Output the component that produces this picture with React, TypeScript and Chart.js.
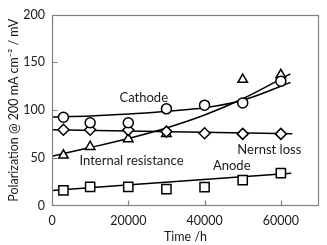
import React, { useEffect, useRef } from 'react';
import { Chart, registerables } from 'chart.js';

Chart.register(...registerables);

// Measured points (time in hours, polarization in mV)
const timeHours = [3000, 10000, 20000, 30000, 40000, 50000, 60000];
const cathodeValues = [92.7, 87, 87, 101.5, 105.3, 107.7, 130.3];
const internalResistanceValues = [53, 62, 70, 75.5, null, 132, 137];
const nernstValues = [79.7, 79.7, 79.3, 77.7, 76, 75.3, 75.3];
const anodeValues = [16.3, 20, 20, 17.7, 19.7, 27, 34.3];

// Fitted trend lines
const cathodeFitX = [0, 10000, 20000, 30000, 40000, 50000, 62500];
const cathodeFitY = [93, 94, 96, 99, 102.7, 110.5, 129];
const resistanceFitX = [0, 10000, 20000, 30000, 40000, 50000, 62500];
const resistanceFitY = [52, 61, 70.5, 81.5, 95, 112, 138];
const nernstFitX = [0, 63000];
const nernstFitY = [79.7, 75.5];
const anodeFitX = [0, 62700];
const anodeFitY = [16.3, 34.3];

// Axes
const xTicks = [0, 20000, 40000, 60000];
const yTicks = [0, 50, 100, 150, 200];
const xTitle = 'Time /h';
const yTitle = 'Polarization @ 200 mA cm\u207B\u00B2 / mV';

// In-plot labels (data coordinates of the left/middle of text)
const labelTexts = ['Cathode', 'Internal resistance', 'Nernst loss', 'Anode'];
const labelX = [17700, 7200, 48600, 42200];
const labelY = [113.4, 47.7, 58.4, 41.7];

const FONT = 'Lato, "Open Sans", sans-serif';
const AXIS_COLOR = '#808080';
const TEXT_COLOR = '#1a1a1a';

const pts = (xs: number[], ys: (number | null)[]) =>
  xs.map((x, i) => ({ x, y: ys[i] as number }));

const decorPlugin = {
  id: 'decor',
  afterDatasetsDraw(chart: any) {
    const { ctx, chartArea, scales } = chart;
    const xs = scales.x;
    const ys = scales.y;
    ctx.save();
    // labels
    ctx.fillStyle = TEXT_COLOR;
    ctx.font = `13px ${FONT}`;
    ctx.textAlign = 'left';
    ctx.textBaseline = 'middle';
    labelTexts.forEach((t, i) => {
      ctx.fillText(t, xs.getPixelForValue(labelX[i]), ys.getPixelForValue(labelY[i]));
    });
    // frame
    ctx.strokeStyle = AXIS_COLOR;
    ctx.lineWidth = 1.2;
    const l = Math.round(chartArea.left) + 0.5;
    const r = Math.round(chartArea.right) - 0.5;
    const t = Math.round(chartArea.top) + 0.5;
    const b = Math.round(chartArea.bottom) - 0.5;
    ctx.strokeRect(l, t, r - l, b - t);
    // inner ticks
    const tl = 5;
    ctx.beginPath();
    xTicks.forEach((v) => {
      if (v <= xs.min || v >= xs.max) return;
      const px = Math.round(xs.getPixelForValue(v)) + 0.5;
      ctx.moveTo(px, b);
      ctx.lineTo(px, b - tl);
    });
    yTicks.forEach((v) => {
      if (v <= ys.min || v >= ys.max) return;
      const py = Math.round(ys.getPixelForValue(v)) + 0.5;
      ctx.moveTo(l, py);
      ctx.lineTo(l + tl, py);
    });
    ctx.stroke();
    ctx.restore();
  },
};

const markerStyle = {
  showLine: false,
  borderColor: '#000',
  backgroundColor: '#fff',
  pointBorderColor: '#000',
  pointBackgroundColor: '#fff',
  pointBorderWidth: 1.5,
};

const lineStyle = {
  showLine: true,
  borderColor: '#000',
  borderWidth: 1.5,
  pointRadius: 0,
  cubicInterpolationMode: 'monotone' as const,
};

export default function App() {
  const ref = useRef<HTMLCanvasElement | null>(null);

  useEffect(() => {
    document.body.style.margin = '0';
    if (!ref.current) return;
    const chart = new Chart(ref.current, {
      type: 'scatter',
      data: {
        datasets: [
          { ...markerStyle, label: 'Cathode', data: pts(timeHours, cathodeValues), pointStyle: 'circle', pointRadius: 5 },
          { ...markerStyle, label: 'Nernst loss', data: pts(timeHours, nernstValues), pointStyle: 'rectRot', pointRadius: 5.5 },
          { ...markerStyle, label: 'Internal resistance', data: pts(timeHours, internalResistanceValues), pointStyle: 'triangle', pointRadius: 5.5 },
          { ...markerStyle, label: 'Anode', data: pts(timeHours, anodeValues), pointStyle: 'rect', pointRadius: 6.5 },
          { ...lineStyle, label: 'Cathode fit', data: pts(cathodeFitX, cathodeFitY) },
          { ...lineStyle, label: 'Internal resistance fit', data: pts(resistanceFitX, resistanceFitY) },
          { ...lineStyle, label: 'Nernst fit', data: pts(nernstFitX, nernstFitY) },
          { ...lineStyle, label: 'Anode fit', data: pts(anodeFitX, anodeFitY) },
        ] as any,
      },
      options: {
        animation: false,
        responsive: false,
        devicePixelRatio: 1,
        layout: { padding: { top: 7, right: 1.5, left: 0, bottom: 0 } },
        plugins: { legend: { display: false }, tooltip: { enabled: false } },
        scales: {
          x: {
            type: 'linear',
            min: 0,
            max: 70000,
            afterBuildTicks: (s: any) => {
              s.ticks = xTicks.map((v) => ({ value: v }));
            },
            afterFit: (s: any) => {
              s.height = 39;
            },
            grid: { display: false, drawTicks: false },
            border: { display: false },
            ticks: {
              padding: 7,
              color: TEXT_COLOR,
              font: { family: FONT, size: 12.5 },
              callback: (v: any) => String(v),
              maxRotation: 0,
            },
            title: {
              display: true,
              text: xTitle,
              color: TEXT_COLOR,
              font: { family: FONT, size: 12.5 },
              padding: { top: 0, bottom: 1 },
            },
          },
          y: {
            type: 'linear',
            min: 0,
            max: 200,
            afterBuildTicks: (s: any) => {
              s.ticks = yTicks.map((v) => ({ value: v }));
            },
            afterFit: (s: any) => {
              s.width = 52;
            },
            grid: { display: false, drawTicks: false },
            border: { display: false },
            ticks: {
              padding: 7,
              color: TEXT_COLOR,
              font: { family: FONT, size: 12.5 },
              callback: (v: any) => String(v),
            },
            title: {
              display: true,
              text: yTitle,
              color: TEXT_COLOR,
              font: { family: FONT, size: 12.5 },
              padding: { top: 6, bottom: 0 },
            },
          },
        },
      },
      plugins: [decorPlugin],
    });
    return () => chart.destroy();
  }, []);

  return (
    <div style={{ width: 327, height: 245 }}>
      <canvas ref={ref} width={327} height={245} />
    </div>
  );
}
